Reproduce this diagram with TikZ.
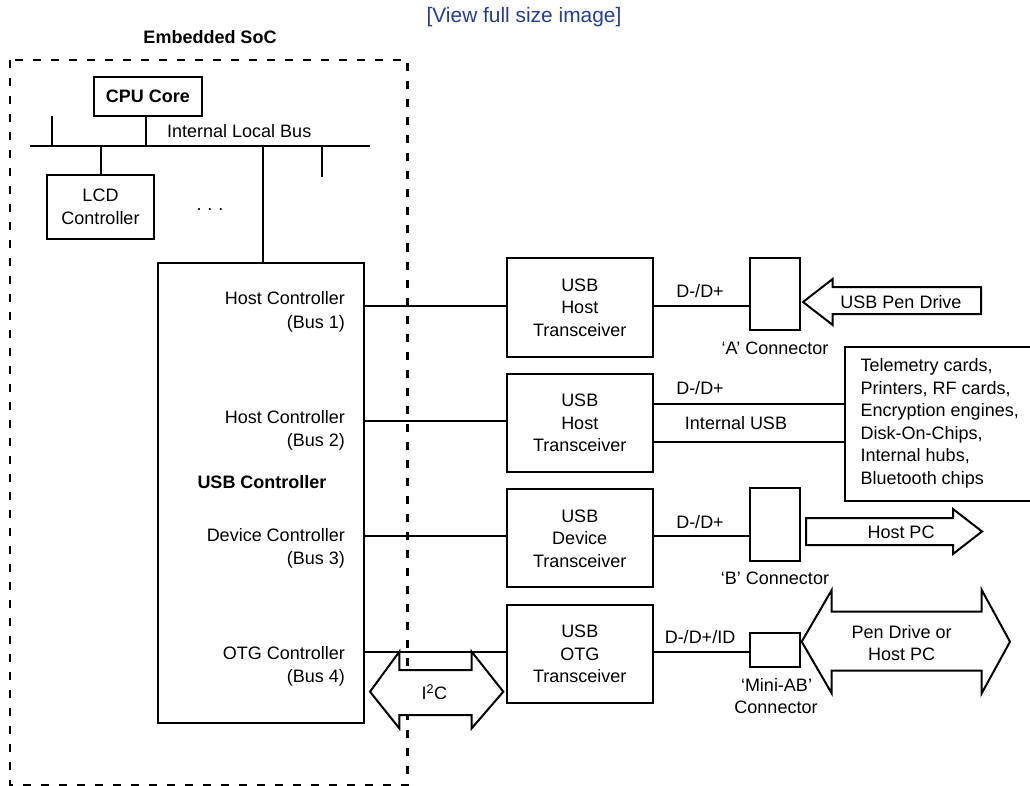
\documentclass[tikz,border=0pt]{standalone}
\usepackage{fontspec}
\setmainfont{Liberation Sans}
\newcommand\fs{\fontsize{18}{22.5}\selectfont}
\definecolor{linkblue}{RGB}{38,62,145}
\tikzset{
  box/.style={draw, line width=2pt, inner sep=0pt, align=center, font=\fs},
  lbl/.style={inner sep=0pt, font=\fs},
  conn/.style={line width=2pt},
  blockarrow/.style={draw, line width=2pt, fill=white, line join=miter},
  socbox/.style={line width=2.2pt, dash pattern=on 8pt off 10pt},
}
\begin{document}
\begin{tikzpicture}[x=1pt, y=-1pt]
\useasboundingbox (0,0) rectangle (1030,786);
\fill[white] (0,0) rectangle (1030,786);

% link text and title
\node[lbl, anchor=base, font=\fontsize{20.9}{25}\selectfont, text=linkblue] (link) at (524,22.5) {[View full size image]};
\node[lbl, anchor=base, font=\fs\bfseries] (soctitle) at (210,43.2) {Embedded SoC};

% SoC dashed boundary
\draw[socbox] (10,60) rectangle (407.5,785);

% internal bus
\coordinate (busL) at (30,146);
\coordinate (busR) at (370,146);
\draw[conn] (busL) -- (busR);
\node[lbl, anchor=base west] (buslbl) at (167,138) {Internal Local Bus};

\node[box, minimum width=107.4, minimum height=39.4, font=\fs\bfseries] (cpu) at (148,96.6) {CPU Core};
\node[box, minimum width=107, minimum height=64] (lcd) at (100.5,207) {LCD\\Controller};
\node[lbl, anchor=base] (dots) at (210,210.5) {.\,\,.\,\,.};

\coordinate (stubA) at (52,116);
\coordinate (stubB) at (322,177);
\draw[conn] (stubA) -- (stubA |- busL);
\draw[conn] (stubB) -- (stubB |- busL);
\draw[conn] ([xshift=-2pt]cpu.south) -- ([xshift=-2pt]cpu.south |- busL);
\draw[conn] (lcd.north) -- (lcd.north |- busL);

% USB controller
\node[box, minimum width=206, minimum height=460] (usbc) at (261,493) {};
\draw[conn] ([xshift=2pt]usbc.north) -- ([xshift=2pt]usbc.north |- busL);
\node[lbl, anchor=base east] (hc1a) at (345,304.8) {Host Controller};
\node[lbl, anchor=base east] (hc1b) at (345,328) {(Bus 1)};
\node[lbl, anchor=base east] (hc2a) at (345,423.1) {Host Controller};
\node[lbl, anchor=base east] (hc2b) at (345,446.5) {(Bus 2)};
\node[lbl, anchor=base, font=\fs\bfseries] (usbclbl) at (262,488) {USB Controller};
\node[lbl, anchor=base east] (dca) at (345,541) {Device Controller};
\node[lbl, anchor=base east] (dcb) at (345,564) {(Bus 3)};
\node[lbl, anchor=base east] (oca) at (345,659) {OTG Controller};
\node[lbl, anchor=base east] (ocb) at (345,682) {(Bus 4)};

% transceivers
\node[box, minimum width=146.5, minimum height=98.4] (t1) at (579.75,307.5) {USB\\Host\\Transceiver};
\node[box, minimum width=146.5, minimum height=97.7] (t2) at (579.75,423) {USB\\Host\\Transceiver};
\node[box, minimum width=146.5, minimum height=98] (t3) at (579.75,538.3) {USB\\Device\\Transceiver};
\node[box, minimum width=146.5, minimum height=97.7] (t4) at (579.75,653.85) {USB\\OTG\\Transceiver};

% connectors
\node[box, minimum width=49.5, minimum height=72] (cA) at (774.75,294) {};
\node[box, minimum width=49.5, minimum height=72.4] (cB) at (774.75,524.5) {};
\node[box, minimum width=49.5, minimum height=34.3] (cM) at (774.75,649.85) {};
\node[box, minimum width=200, minimum height=153.4] (tel) at (945,424) {};

% controller to transceiver links
\draw[conn] ([yshift=2pt]usbc.east |- t1.west) -- ([yshift=2pt]t1.west);
\draw[conn] ([yshift=2pt]usbc.east |- t2.west) -- ([yshift=2pt]t2.west);
\draw[conn] ([yshift=2pt]usbc.east |- t3.west) -- ([yshift=2pt]t3.west);
\draw[conn] ([yshift=2pt]usbc.east |- t4.west) -- ([yshift=2pt]t4.west);

% transceiver to connector links
\draw[conn] ([yshift=2pt]t1.east) -- ([yshift=2pt]t1.east -| cA.west);
\draw[conn] ([yshift=19pt]t2.east) -- ([yshift=19pt]t2.east -| tel.west);
\draw[conn] ([yshift=-19pt]t2.east) -- ([yshift=-19pt]t2.east -| tel.west);
\draw[conn] ([yshift=2pt]t3.east) -- ([yshift=2pt]t3.east -| cB.west);
\draw[conn] ([yshift=2pt]t4.east) -- ([yshift=2pt]t4.east -| cM.west);

\node[lbl, anchor=base] (d1) at (700,297.5) {D-/D+};
\node[lbl, anchor=base] (d2) at (700,394.5) {D-/D+};
\node[lbl, anchor=base] (iusb) at (736,429.5) {Internal USB};
\node[lbl, anchor=base] (d3) at (700,528) {D-/D+};
\node[lbl, anchor=base] (d4) at (700,643) {D-/D+/ID};

\node[lbl, anchor=base] (cAlbl) at (775,354) {‘A’ Connector};
\node[lbl, anchor=base] (cBlbl) at (775,584) {‘B’ Connector};
\node[lbl, anchor=base] (cMlbl1) at (776.5,691.5) {‘Mini-AB’};
\node[lbl, anchor=base] (cMlbl2) at (776,713) {Connector};

\node[lbl, anchor=north west, align=left] (tellbl) at (860.5,358.5) {Telemetry cards,\\Printers, RF cards,\\Encryption engines,\\Disk-On-Chips,\\Internal hubs,\\Bluetooth chips};

% block arrows
\draw[blockarrow] (803,302) -- (832.7,279) -- (832.7,287) -- (981,287) -- (981,314) -- (832.7,314) -- (832.7,325) -- cycle;
\node[lbl, anchor=base] (pen) at (901,308) {USB Pen Drive};

\draw[blockarrow] (806,518) -- (953,518) -- (953,509) -- (982,531.5) -- (953,554) -- (953,545) -- (806,545) -- cycle;
\node[lbl, anchor=base] (hostpc) at (901,538.5) {Host PC};

\draw[blockarrow] (801.7,641.7) -- (831.7,590) -- (831.7,611.7) -- (981.7,611.7) -- (981.7,590) -- (1010,641.7) -- (981.7,693.3) -- (981.7,670.7) -- (831.7,670.7) -- (831.7,693.3) -- cycle;
\node[lbl, align=center] (pdhp) at (901.7,643) {Pen Drive or\\Host PC};

\draw[blockarrow] (370,691.7) -- (399.3,651.7) -- (399.3,670) -- (471.7,670) -- (471.7,651.7) -- (503.3,691.7) -- (471.7,728.3) -- (471.7,715) -- (399.3,715) -- (399.3,728.3) -- cycle;
\node[lbl, anchor=base] (i2c) at (434.3,699.7) {I\textsuperscript{2}C};
\end{tikzpicture}
\end{document}
